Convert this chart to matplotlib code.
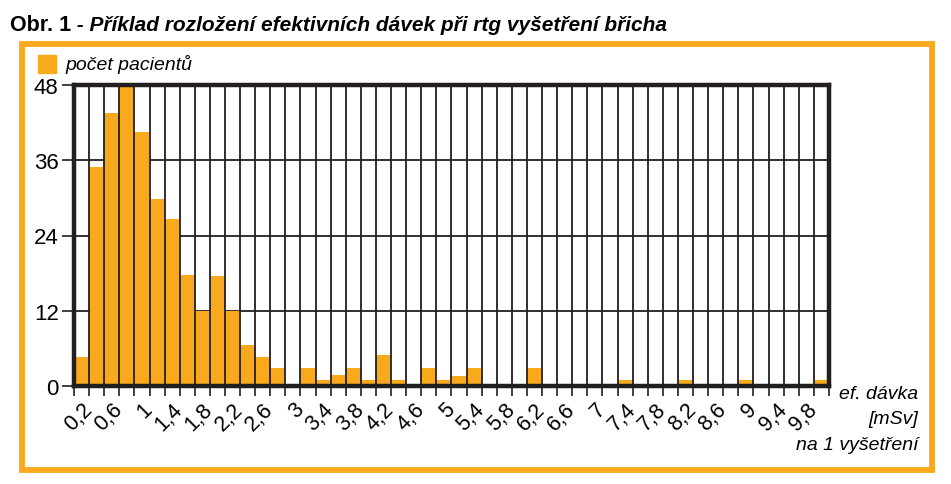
import matplotlib.pyplot as plt
from matplotlib.patches import Rectangle

plt.rcParams['font.family'] = ['Liberation Sans', 'DejaVu Sans']
plt.rcParams['axes.axisbelow'] = True

orange = '#F8AA1C'
dark = '#231F20'

# doses (mSv) - bin centres, step 0.2
doses = [round(0.2 * k, 1) for k in range(1, 51)]
patients = [4.6, 35, 43.5, 48, 40.5, 29.8, 26.6, 17.7, 12, 17.5,
            12, 6.6, 4.6, 2.9, 0, 2.9, 1, 1.7, 2.9, 1,
            5, 1, 0, 2.9, 1, 1.6, 2.8, 0, 0, 0,
            2.8, 0, 0, 0, 0, 0, 1, 0, 0, 0,
            1, 0, 0, 0, 1, 0, 0, 0, 0, 1]
tick_labels = ['0,2', '0,6', '1', '1,4', '1,8', '2,2', '2,6', '3', '3,4', '3,8',
               '4,2', '4,6', '5', '5,4', '5,8', '6,2', '6,6', '7', '7,4', '7,8',
               '8,2', '8,6', '9', '9,4', '9,8']
y_ticks = [0, 12, 24, 36, 48]

fig = plt.figure(figsize=(9.51, 4.85), dpi=100)
ax = fig.add_axes([74/951, 1-387/485, 755/951, 301/485])

ax.bar(doses, patients, width=0.2, color=orange, linewidth=0, zorder=2)

edges = [round(d - 0.1, 2) for d in doses] + [doses[-1] + 0.1]
ax.vlines(edges[1:-1], 0, 48, color=dark, lw=1.3, zorder=3)
ax.hlines(y_ticks[1:-1], edges[0], edges[-1], color=dark, lw=1.3, zorder=1)

ax.set_xlim(edges[0], edges[-1])
ax.set_ylim(0, 48)
ax.set_xticks(doses[::2])
ax.set_xticklabels(tick_labels, rotation=45, ha='right', va='top',
                   rotation_mode='anchor', fontsize=15.5)
ax.set_xticks(edges, minor=True)
ax.tick_params(axis='x', which='major', length=0, pad=9)
ax.tick_params(axis='x', which='minor', length=7, width=1.2, color=dark, direction='out')
ax.set_yticks(y_ticks)
ax.tick_params(axis='y', length=9, width=1.2, color=dark, labelsize=16, pad=2)

for s in ax.spines.values():
    s.set_linewidth(3.2)
    s.set_color(dark)
    s.set_zorder(4)

# orange frame
fig.patches.append(Rectangle((22/951, 1-471/485), 910/951, 426.5/485,
                             transform=fig.transFigure, fill=False,
                             edgecolor=orange, lw=4.2))

# legend
fig.patches.append(Rectangle((38/951, 1-74/485), 18/951, 18/485,
                             transform=fig.transFigure, color=orange))
fig.text(65/951, 1-64/485, 'počet pacientů', style='italic', fontsize=14,
         va='center', ha='left')

# title: bold part, then bold italic part on the same baseline
title_y = 1 - 31/485
t1 = fig.text(10/951, title_y, 'Obr. 1', weight='bold', fontsize=15.5,
              va='baseline', ha='left')
fig.canvas.draw()
x_end = t1.get_window_extent().x1 / fig.bbox.width
fig.text(x_end, title_y, ' - Příklad rozložení efektivních dávek při rtg vyšetření břicha',
         weight='bold', style='italic', fontsize=15, va='baseline', ha='left')

# axis label
fig.text(918/951, 1-386/485, 'ef. dávka\n[mSv]\nna 1 vyšetření', style='italic',
         fontsize=14, ha='right', va='top', linespacing=1.65)

fig.savefig('out.png', dpi=100)
